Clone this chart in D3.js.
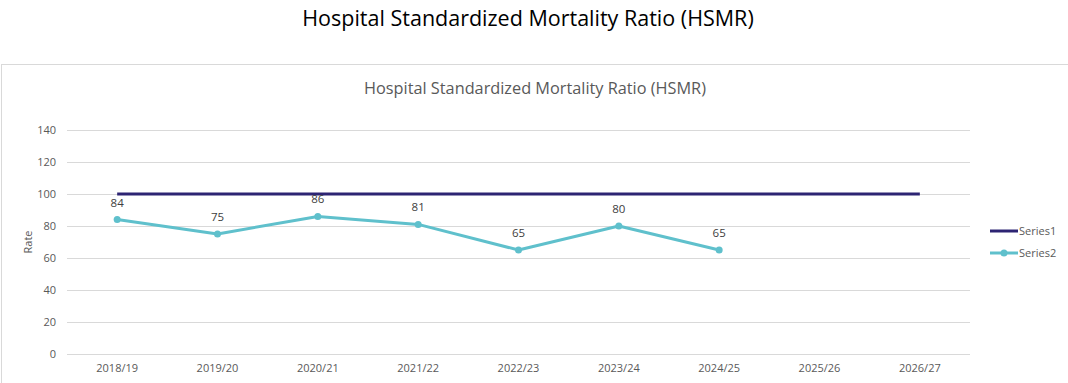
<!DOCTYPE html>
<html>
<head>
<meta charset="utf-8">
<script src="https://cdn.jsdelivr.net/npm/d3@7"></script>
<style>
  body { margin: 0; background: #fff; }
  text { font-family: "Open Sans", "Noto Sans", sans-serif; }
  .grid line { stroke: #d9d9d9; }
  .axis text { fill: #595959; font-size: 11px; }
</style>
</head>
<body>
<div id="chart"></div>
<script>
const categories = ['2018/19','2019/20','2020/21','2021/22','2022/23','2023/24','2024/25','2025/26','2026/27']
const series1 = [100,100,100,100,100,100,100,100,100]
const series2 = [84,75,86,81,65,80,65,null,null]
const yTicks = [0,20,40,60,80,100,120,140]

const W = 1068, H = 383
const svg = d3.select('#chart').append('svg')
    .attr('width', W)
    .attr('height', H)

// outer title
svg.append('text')
    .attr('x', 528)
    .attr('y', 26)
    .attr('text-anchor', 'middle')
    .style('font-size', '21.5px')
    .style('fill', '#000')
    .text('Hospital Standardized Mortality Ratio (HSMR)')

// chart frame
svg.append('rect')
    .attr('x', 1.5)
    .attr('y', 64.5)
    .attr('width', W + 10)
    .attr('height', H)
    .attr('fill', '#fff')
    .attr('stroke', '#d9d9d9')

svg.append('text')
    .attr('x', 535)
    .attr('y', 94)
    .attr('text-anchor', 'middle')
    .style('font-size', '16.3px')
    .style('fill', '#595959')
    .text('Hospital Standardized Mortality Ratio (HSMR)')

const plotL = 67, plotR = 970, plotT = 130, plotB = 354

let x = d3.scaleBand()
    .domain(categories)
    .range([plotL, plotR])

let y = d3.scaleLinear()
    .domain([0, 140])
    .range([plotB, plotT])

const cx = d => x(d) + x.bandwidth() / 2

// gridlines
svg.append('g')
    .attr('class', 'grid')
  .selectAll('line')
  .data(yTicks)
  .join('line')
    .attr('x1', plotL)
    .attr('x2', plotR)
    .attr('y1', d => Math.round(y(d)) + 0.5)
    .attr('y2', d => Math.round(y(d)) + 0.5)

let yAxis = d3.axisLeft(y).tickValues(yTicks).tickSize(0).tickPadding(11)
svg.append('g')
    .attr('class', 'axis')
    .attr('transform', `translate(${plotL},0)`)
    .call(yAxis)
    .call(g => g.select('.domain').remove())

let xAxis = d3.axisBottom(x).tickSize(0).tickPadding(10)
svg.append('g')
    .attr('class', 'axis')
    .attr('transform', `translate(0,${plotB})`)
    .call(xAxis)
    .call(g => g.select('.domain').remove())

svg.append('text')
    .attr('transform', `translate(32,${(plotT + plotB) / 2}) rotate(-90)`)
    .attr('text-anchor', 'middle')
    .style('font-size', '11px')
    .style('fill', '#595959')
    .text('Rate')

// series lines
const line = d3.line()
    .defined(d => d.v != null)
    .x(d => cx(d.c))
    .y(d => y(d.v))

const s1 = categories.map((c, i) => ({c, v: series1[i]}))
const s2 = categories.map((c, i) => ({c, v: series2[i]}))

svg.append('path')
    .datum(s1)
    .attr('fill', 'none')
    .attr('stroke', '#2d2473')
    .attr('stroke-width', 3)
    .attr('d', line)

svg.append('path')
    .datum(s2)
    .attr('fill', 'none')
    .attr('stroke', '#5fc0cc')
    .attr('stroke-width', 3)
    .attr('stroke-linejoin', 'round')
    .attr('d', line)

svg.selectAll('.dot')
  .data(s2.filter(d => d.v != null))
  .join('circle')
    .attr('class', 'dot')
    .attr('cx', d => cx(d.c))
    .attr('cy', d => y(d.v))
    .attr('r', 3.5)
    .attr('fill', '#5fc0cc')

svg.selectAll('.lbl')
  .data(s2.filter(d => d.v != null))
  .join('text')
    .attr('class', 'lbl')
    .attr('x', d => cx(d.c))
    .attr('y', d => y(d.v) - 13)
    .attr('text-anchor', 'middle')
    .style('font-size', '11.5px')
    .style('fill', '#404040')
    .text(d => d.v)

// legend
const legend = [{name: 'Series1', color: '#2d2473', dot: false}, {name: 'Series2', color: '#5fc0cc', dot: true}]
const lg = svg.selectAll('.legend')
  .data(legend)
  .join('g')
    .attr('class', 'legend')
    .attr('transform', (d, i) => `translate(990,${231 + i * 22})`)

lg.append('line')
    .attr('x1', 0)
    .attr('x2', 28)
    .attr('stroke', d => d.color)
    .attr('stroke-width', 3)

lg.filter(d => d.dot).append('circle')
    .attr('cx', 14)
    .attr('r', 3.5)
    .attr('fill', d => d.color)

lg.append('text')
    .attr('x', 29)
    .attr('dy', '0.35em')
    .style('font-size', '11px')
    .style('fill', '#595959')
    .text(d => d.name)
</script>
</body>
</html>
